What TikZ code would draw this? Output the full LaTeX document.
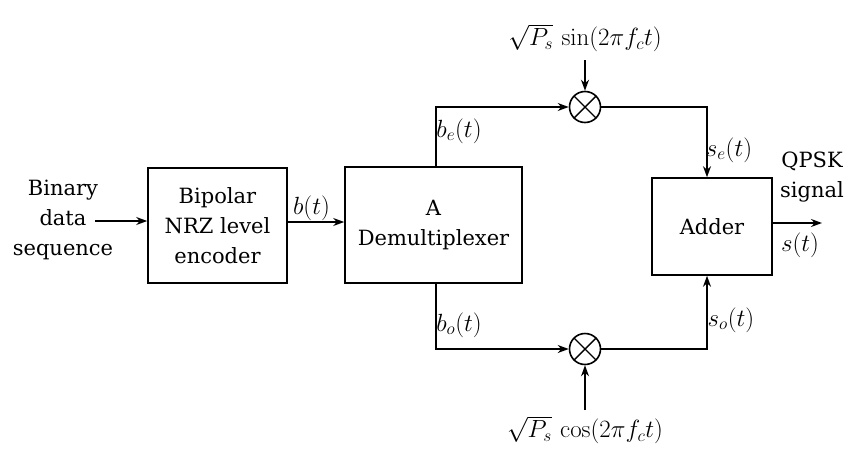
\documentclass[tikz,border=0pt]{standalone}
\usepackage[no-math]{fontspec}
\setmainfont{DejaVu Serif}
\usetikzlibrary{arrows.meta}
\begin{document}
\begin{tikzpicture}[x=1pt,y=-1pt,
  every node/.style={font=\fontsize{21}{30}\selectfont},
  mth/.style={font=\fontsize{23}{29}\selectfont},
  blk/.style={draw,line width=1.6pt,inner sep=0pt},
  mult/.style={draw,circle,line width=1.6pt,minimum size=31pt,inner sep=0pt,
    path picture={\draw[line width=1.4pt] (path picture bounding box.north west) -- (path picture bounding box.south east)
      (path picture bounding box.north east) -- (path picture bounding box.south west);}},
  wire/.style={line width=1.6pt},
  arr/.style={wire,-{Stealth[length=11pt,width=8pt]}},
  lbl/.style={inner sep=1pt}]
\useasboundingbox (0,0) rectangle (851,450);
% text input
\node[align=center] (inp) at (63,220) {Binary\\data\\sequence};
\coordinate (inE) at (95,221);
% boxes
\node[blk,minimum width=139pt,minimum height=115pt,align=center] (enc) at (217.5,225.5) {Bipolar\\NRZ level\\encoder};
\node[blk,minimum width=177pt,minimum height=116pt,align=center] (dmx) at (433.5,225) {A\\Demultiplexer};
\node[blk,minimum width=120pt,minimum height=97pt] (add) at (712,226.5) {Adder};
% multipliers
\node[mult] (m1) at (585,107) {};
\node[mult] (m2) at (585,349) {};
% carriers
\node[mth] (sinl) at (585,38) {$\sqrt{P_s}\,\sin(2\pi f_c t)$};
\node[mth] (cosl) at (585,430) {$\sqrt{P_s}\,\cos(2\pi f_c t)$};
\coordinate (sinE) at (585,60);
\coordinate (cosE) at (585,410);
% corners
\coordinate (tl) at (436,107);
\coordinate (bl) at (436,349);
\coordinate (tr) at (707,107);
\coordinate (br) at (707,349);
\coordinate (outE) at (822,223);
% connectors
\draw[arr] (inE) -- (enc.west |- inE);
\draw[arr] (enc.east |- 0,222) -- (dmx.west |- 0,222) node[mth,pos=0.42,above,lbl] {$b(t)$};
\draw[arr] (tl |- dmx.north) -- (tl) -- (m1.west);
\draw[arr] (bl |- dmx.south) -- (bl) -- (m2.west);
\draw[arr] (m1.east) -- (tr) -- (tr |- add.north);
\draw[arr] (m2.east) -- (br) -- (br |- add.south);
\draw[arr] (sinE) -- (m1.north);
\draw[arr] (cosE) -- (m2.south);
\draw[arr] (add.east |- outE) -- (outE);
% labels
\node[mth] (be) at (459,131) {$b_e(t)$};
\node[mth] (bo) at (459,325) {$b_o(t)$};
\node[mth] (se) at (729,150) {$s_e(t)$};
\node[mth] (so) at (731,320) {$s_o(t)$};
\node[align=center] (qpsk) at (812,177) {QPSK\\signal};
\node[mth] (st) at (800,245) {$s(t)$};
\end{tikzpicture}
\end{document}
